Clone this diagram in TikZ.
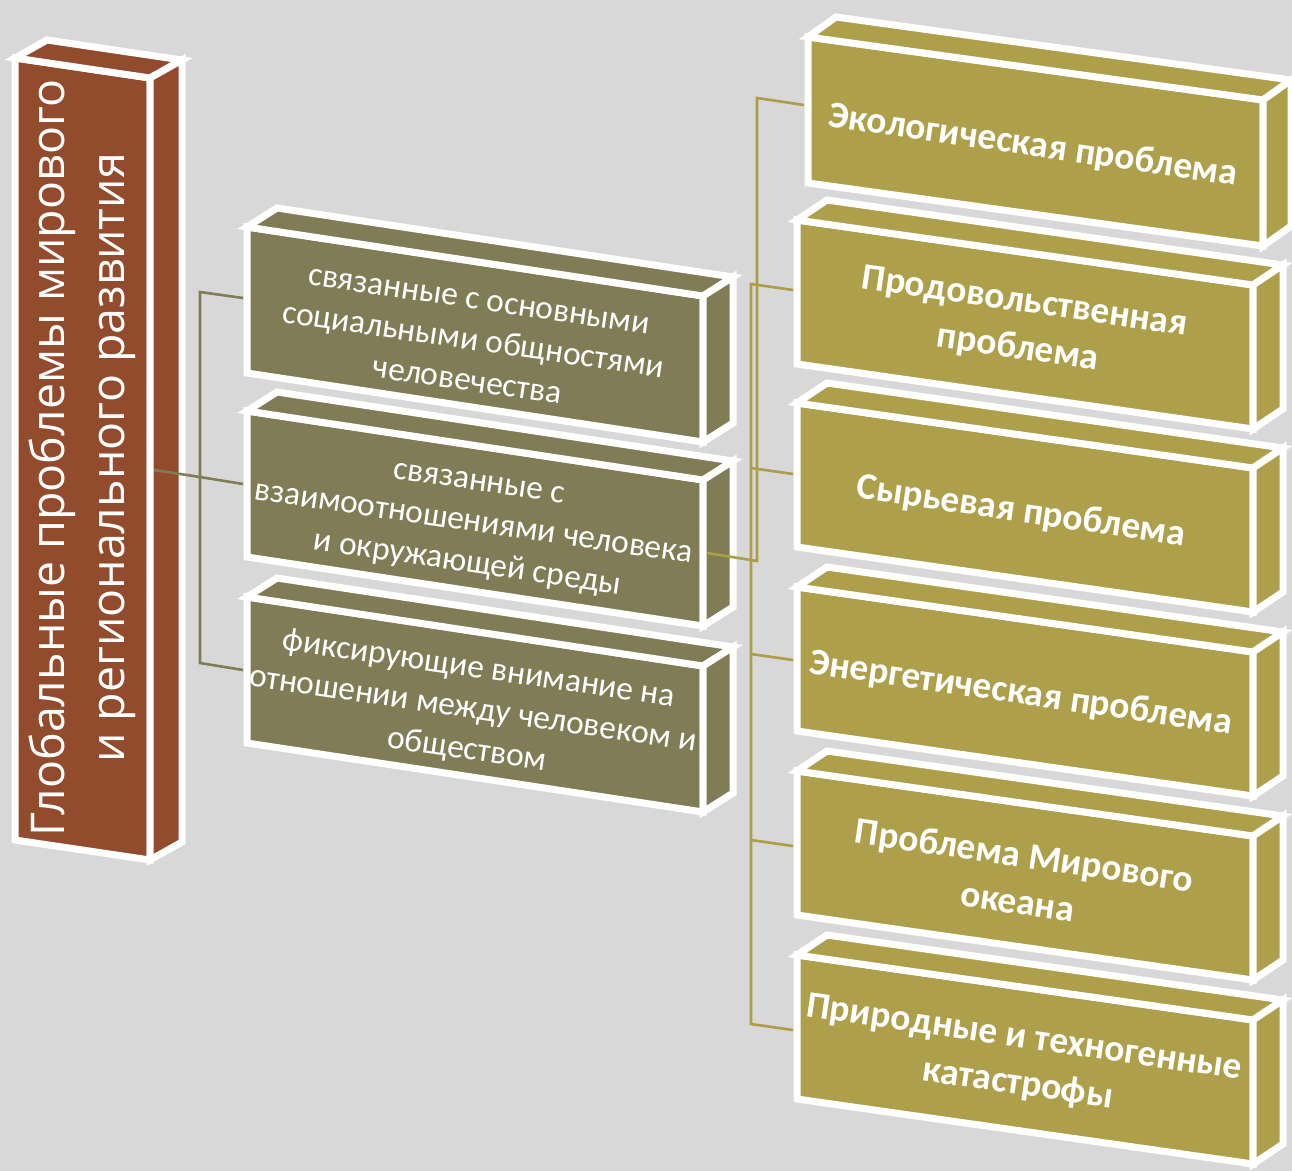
\documentclass[tikz,border=0pt]{standalone}
\usepackage{fontspec}
\setmainfont{Carlito}
\newfontfamily\leftfont{Open Sans}
\definecolor{bgc}{RGB}{216,216,216}
\definecolor{brownc}{RGB}{147,75,45}
\definecolor{midc}{RGB}{128,124,86}
\definecolor{rightc}{RGB}{174,160,75}
\definecolor{midline}{RGB}{128,124,86}
\definecolor{rightline}{RGB}{172,158,72}
\tikzset{
  boxborder/.style={draw=white, line width=7pt, line join=miter},
  conn/.style={line width=2.6pt},
  midtext/.style={rotate=-8.3, text=white, align=center, font=\fontsize{33.5}{41}\selectfont},
  righttext/.style={rotate=-8.3, text=white, align=center, font=\bfseries\fontsize{37.5}{47}\selectfont},
}
% #1 x, #2 y, #3 width, #4 skew, #5 height, #6 depth x, #7 depth y, #8 colour
\newcommand\drawthreedbox[8]{%
  \path[boxborder, fill=#8] (#1,#2) -- ({#1+#3},{#2+#4}) -- ({#1+#3},{#2+#4+#5}) -- (#1,{#2+#5}) -- cycle;
  \path[boxborder, fill=#8] (#1,#2) -- ({#1+#6},{#2+#7}) -- ({#1+#3+#6},{#2+#4+#7}) -- ({#1+#3},{#2+#4}) -- cycle;
  \path[boxborder, fill=#8] ({#1+#3},{#2+#4}) -- ({#1+#3+#6},{#2+#4+#7}) -- ({#1+#3+#6},{#2+#4+#5+#7}) -- ({#1+#3},{#2+#4+#5}) -- cycle;
}
\begin{document}
\begin{tikzpicture}[x=1pt, y=-1pt]
\useasboundingbox (0,0) rectangle (1292,1171);
\fill[bgc] (0,0) rectangle (1292,1171);

% left box
\drawthreedbox{15}{58}{135}{20}{782}{32}{-18}{brownc}
\node[rotate=90, text=white, align=center, font=\leftfont\fontsize{46.5}{60}\selectfont] (lbt) at (82,458)
  {Глобальные проблемы мирового\\и регионального развития};

% middle boxes
\drawthreedbox{247}{227}{456}{69}{146}{30}{-19}{midc}
\drawthreedbox{247}{411}{456}{69}{146}{30}{-19}{midc}
\drawthreedbox{247}{597}{456}{69}{146}{30}{-19}{midc}
\node[midtext] (m1) at (473,342) {связанные с основными\\социальными общностями\\человечества};
\node[midtext] (m2) at (473,526) {связанные с\\взаимоотношениями человека\\и окружающей среды};
\node[midtext] (m3) at (473,710) {фиксирующие внимание на\\отношении между человеком и\\обществом};

% right boxes
\drawthreedbox{808}{37}{455}{63}{146}{28}{-20}{rightc}
\drawthreedbox{797}{220}{456}{65}{144}{30}{-20}{rightc}
\drawthreedbox{797}{403}{456}{65}{144}{30}{-20}{rightc}
\drawthreedbox{797}{587}{456}{65}{144}{30}{-20}{rightc}
\drawthreedbox{797}{771}{456}{65}{144}{30}{-20}{rightc}
\drawthreedbox{797}{955}{456}{65}{144}{30}{-20}{rightc}
\node[righttext] (r1) at (1033,146) {Экологическая проблема};
\node[righttext] (r2) at (1021,326) {Продовольственная\\проблема};
\node[righttext] (r3) at (1021,512) {Сырьевая проблема};
\node[righttext] (r4) at (1021,694) {Энергетическая проблема};
\node[righttext] (r5) at (1021,878) {Проблема Мирового\\океана};
\node[righttext] (r6) at (1021,1062) {Природные и техногенные\\катастрофы};

% connector anchor points
\coordinate (lbE) at (154,470);
\coordinate (lj) at (200,477);
\coordinate (m1W) at (243,298);
\coordinate (m2W) at (243,484);
\coordinate (m3W) at (243,670);
\coordinate (m2E) at (707,553);
\coordinate (rjA) at (757,561);
\coordinate (r1W) at (804,105);
\coordinate (r2W) at (793,290);
\coordinate (r3W) at (793,474);
\coordinate (r4W) at (793,660);
\coordinate (r5W) at (793,846);
\coordinate (r6W) at (793,1030);

% left connectors
\draw[conn, midline] (lbE) -- (lj) -- (m2W);
\draw[conn, midline] (m1W) -- (200,292) -- (200,663) -- (m3W);

% right connectors
\draw[conn, rightline] (m2E) -- (rjA) -- (757,98) -- (r1W);
\draw[conn, rightline] (r2W) -- (751,284) -- (751,1024) -- (r6W);
\draw[conn, rightline] (751,468) -- (r3W);
\draw[conn, rightline] (751,654) -- (r4W);
\draw[conn, rightline] (751,840) -- (r5W);
\end{tikzpicture}
\end{document}
